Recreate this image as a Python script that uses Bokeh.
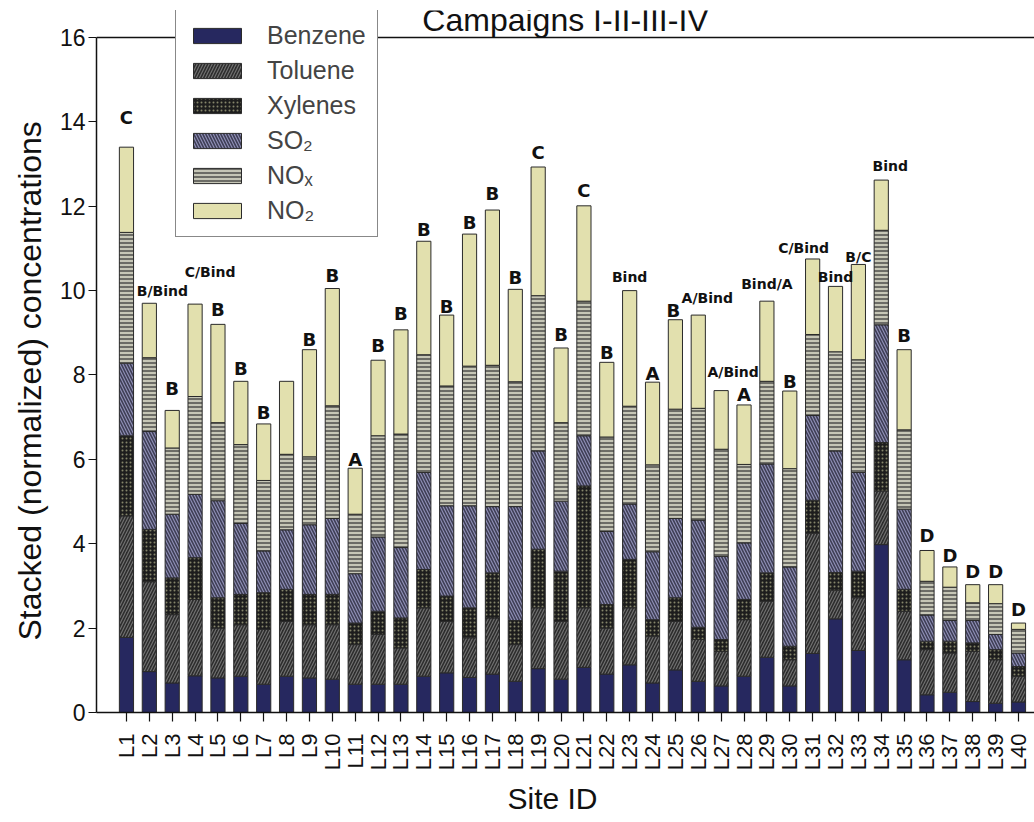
import numpy as np
from bokeh.plotting import figure
from bokeh.models import ColumnDataSource, Range1d, FixedTicker, Legend, LegendItem, Span, Title
from bokeh.transform import stack
from bokeh.embed import file_html
from bokeh.resources import INLINE
from bokeh.core.properties import value

sites = [f"L{i}" for i in range(1, 41)]
site_pos = list(range(1, 41))

benzene = [1.78, 0.97, 0.70, 0.87, 0.82, 0.86, 0.67, 0.86, 0.82, 0.79,
           0.67, 0.67, 0.67, 0.86, 0.94, 0.83, 0.91, 0.74, 1.04, 0.79,
           1.07, 0.91, 1.13, 0.70, 1.01, 0.74, 0.63, 0.86, 1.31, 0.63,
           1.40, 2.22, 1.47, 3.98, 1.25, 0.42, 0.48, 0.26, 0.22, 0.25]
toluene = [2.88, 2.13, 1.62, 1.81, 1.18, 1.22, 1.30, 1.30, 1.26, 1.29,
           0.94, 1.18, 0.86, 1.62, 1.22, 0.94, 1.33, 0.87, 1.44, 1.37,
           1.41, 1.09, 1.35, 1.11, 1.15, 0.99, 0.82, 1.34, 1.33, 0.62,
           2.85, 0.68, 1.25, 1.27, 1.15, 1.07, 0.93, 1.19, 1.03, 0.61]
xylenes = [1.90, 1.24, 0.87, 0.99, 0.72, 0.72, 0.87, 0.76, 0.72, 0.72,
           0.51, 0.55, 0.71, 0.91, 0.60, 0.71, 1.07, 0.57, 1.39, 1.19,
           2.89, 0.56, 1.15, 0.39, 0.56, 0.29, 0.28, 0.48, 0.67, 0.32,
           0.78, 0.42, 0.63, 1.15, 0.52, 0.20, 0.28, 0.20, 0.24, 0.23]
so2 = [1.72, 2.32, 1.51, 1.50, 2.30, 1.68, 0.99, 1.41, 1.65, 1.80,
       1.17, 1.76, 1.67, 2.30, 2.14, 2.42, 1.57, 2.70, 2.33, 1.66,
       1.19, 1.73, 1.31, 1.61, 1.88, 2.54, 1.97, 1.34, 2.58, 1.88,
       2.01, 2.88, 2.34, 2.79, 1.90, 0.62, 0.49, 0.53, 0.36, 0.32]
nox = [3.10, 1.75, 1.57, 2.32, 1.85, 1.87, 1.67, 1.79, 1.61, 2.67,
       1.41, 2.40, 2.69, 2.79, 2.84, 3.31, 3.35, 2.96, 3.68, 1.86,
       3.19, 2.24, 2.32, 2.06, 2.59, 2.65, 2.54, 1.86, 1.96, 2.33,
       1.92, 2.35, 2.67, 2.24, 1.88, 0.80, 0.79, 0.42, 0.73, 0.56]
no2 = [2.02, 1.29, 0.89, 2.19, 2.33, 1.50, 1.34, 1.73, 2.54, 2.78,
       1.09, 1.79, 2.47, 2.69, 1.68, 3.13, 3.68, 2.19, 3.05, 1.77,
       2.26, 1.77, 2.74, 1.96, 2.12, 2.21, 1.39, 1.41, 1.90, 1.84,
       1.79, 1.55, 2.26, 1.19, 1.90, 0.73, 0.48, 0.43, 0.45, 0.15]

site_class = ["C", "B/Bind", "B", "C/Bind", "B", "B", "B", "", "B", "B",
              "A", "B", "B", "B", "B", "B", "B", "B", "C", "B",
              "C", "B", "Bind", "A", "B", "A/Bind", "A/Bind", "A", "Bind/A", "B",
              "C/Bind", "Bind", "B/C", "Bind", "B", "D", "D", "D", "D", "D"]

components = ["Benzene", "Toluene", "Xylenes", "SO\u2082", "NO\u2093", "NO\u2082"]
keys = ["benzene", "toluene", "xylenes", "so2", "nox", "no2"]
title_text = "Campaigns I-II-III-IV"
x_title = "Site ID"
y_title = "Stacked (normalized) concentrations"
y_max = 16

# styling
fills = ["#26285f", "#2c2c2c", "#1d1d1d", "#8f8fb6", "#c6c6b6", "#e2e0ae"]
hatches = [" ", "/", ".", "\\", "-", " "]
hatch_cols = ["#26285f", "#707070", "#85856a", "#3e3e55", "#3a3a3a", "#e2e0ae"]
hatch_scales = [6, 6, 4, 6, 4, 6]
hatch_weights = [1, 1.2, 1.2, 1.6, 1.3, 1]
label_dx = [0] * 40
label_dx[1] = 13; label_dx[3] = 15; label_dx[24] = -2; label_dx[25] = 9
label_dx[26] = 12; label_dx[30] = -9; label_dx[33] = 9
label_gap = [30, 12, 22, 32, 15, 13, 11, 0, 10, 13,
             9, 15, 16, 12, 9, 12, 17, 12, 15, 13,
             15, 10, 14, 9, 9, 17, 19, 10, 17, 10,
             11, 9, 7, 14, 14, 15, 11, 13, 13, 14]

data = dict(x=site_pos, benzene=benzene, toluene=toluene, xylenes=xylenes,
            so2=so2, nox=nox, no2=no2)
src = ColumnDataSource(data)

# frame: top of frame sits a little above y=16 so the legend can rise above it
px_per_unit = 42.19
x_lo, x_hi = -0.31, 40.70
x_mid = (x_lo + x_hi) / 2
p = figure(width=1034, height=822, output_backend="svg", toolbar_location=None,
           x_range=Range1d(x_lo, x_hi), y_range=Range1d(0, y_max + 27 / px_per_unit),
           min_border_left=95, min_border_right=0, min_border_top=10,
           min_border_bottom=110)

renderers = []
for i, k in enumerate(keys):
    r = p.vbar(x="x", width=0.62, bottom=stack(*keys[:i]), top=stack(*keys[:i + 1]),
               source=src, fill_color=fills[i], line_color="#2a2a2a", line_width=1,
               hatch_pattern=hatches[i], hatch_color=hatch_cols[i],
               hatch_scale=hatch_scales[i], hatch_weight=hatch_weights[i])
    renderers.append(r)

totals = [sum(v) for v in zip(benzene, toluene, xylenes, so2, nox, no2)]
lab_src = ColumnDataSource(dict(
    x=site_pos, y=totals, text=site_class,
    dx=label_dx, dy=[-g for g in label_gap],
    size=["18px" if len(s) == 1 else "14px" for s in site_class]))
p.text(x="x", y="y", text="text", source=lab_src, x_offset="dx", y_offset="dy",
       text_font=value("DejaVu Sans"), text_font_style="bold", text_font_size="size",
       text_align="center", text_baseline="middle", text_color="#111111")

# title, centred over the frame just above the top line
p.text(x=[x_mid], y=[y_max], text=[title_text], y_offset=-17,
       text_font=value("Liberation Sans"), text_font_size="32px",
       text_align="center", text_baseline="middle", text_color="#111111")

# axis titles as side titles
p.add_layout(Title(text=y_title, align="left", offset=72, standoff=18,
                   text_font="Liberation Sans", text_font_size="32px",
                   text_font_style="normal", text_color="#111111"), "left")
p.add_layout(Title(text=x_title, align="left", offset=411, standoff=12,
                   text_font="Liberation Sans", text_font_size="30px",
                   text_font_style="normal", text_color="#111111"), "below")

# axes
p.xgrid.visible = False
p.ygrid.visible = False
p.outline_line_color = None
p.add_layout(Span(location=y_max, dimension="width", line_color="#111111", line_width=1.5))

p.xaxis.ticker = FixedTicker(ticks=site_pos)
p.xaxis.major_label_overrides = {i: s for i, s in zip(site_pos, sites)}
p.xaxis.major_label_orientation = np.pi / 2
p.xaxis.major_label_text_font = "Liberation Sans"
p.xaxis.major_label_text_font_size = "22px"
p.xaxis.major_label_standoff = 12
p.xaxis.major_tick_out = 9
p.xaxis.major_tick_in = 0
p.xaxis.minor_tick_line_color = None

p.yaxis.ticker = FixedTicker(ticks=list(range(0, 17, 2)))
p.yaxis.bounds = (0, y_max)
p.yaxis.major_label_text_font = "Liberation Sans"
p.yaxis.major_label_text_font_size = "23px"
p.yaxis.major_label_standoff = 3
p.yaxis.major_tick_out = 8
p.yaxis.major_tick_in = 0
p.yaxis.minor_tick_line_color = None

for ax in (p.xaxis, p.yaxis):
    ax.axis_line_color = "#111111"
    ax.axis_line_width = 1.5
    ax.major_tick_line_color = "#111111"
    ax.major_tick_line_width = 1.2
    ax.major_label_text_color = "#111111"

legend = Legend(items=[LegendItem(label=components[i], renderers=[renderers[i]])
                       for i in range(6)],
                location=(79, 475))
legend.glyph_width = 60
legend.glyph_height = 19
legend.label_text_font = "Liberation Sans"
legend.label_text_font_size = "25px"
legend.label_standoff = 20
legend.padding = 11
legend.spacing = 6
legend.margin = 0
legend.border_line_color = "#111111"
legend.border_line_width = 1.5
legend.background_fill_alpha = 1.0
p.add_layout(legend)

open("out.html", "w").write(file_html(p, INLINE))
